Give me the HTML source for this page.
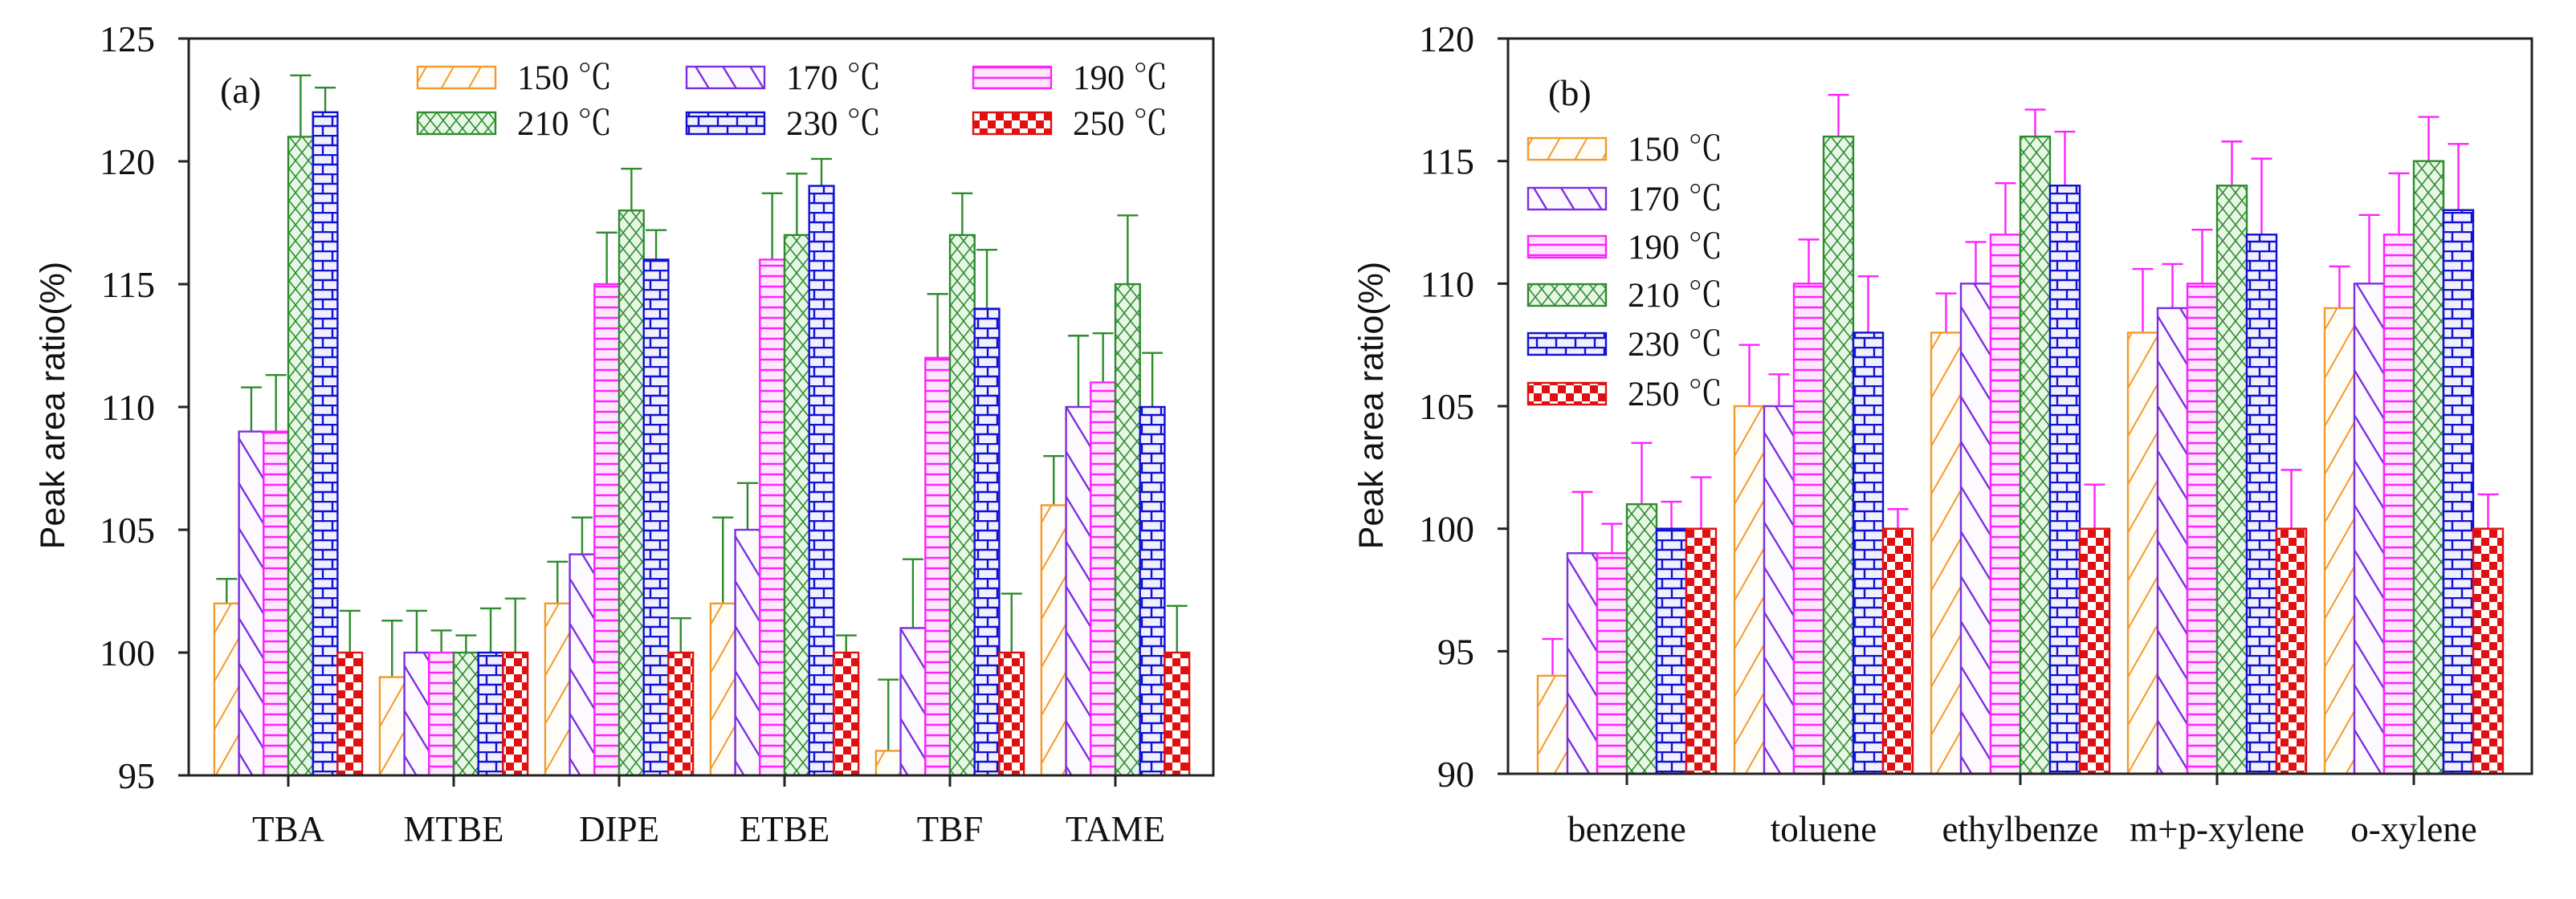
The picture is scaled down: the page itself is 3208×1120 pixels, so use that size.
<!DOCTYPE html>
<html><head><meta charset="utf-8"><style>
html,body{margin:0;padding:0;background:#fff;}
svg{display:block;}
text{font-family:"Liberation Serif","Noto Serif CJK SC",serif;fill:#111;}
.yt{font-family:"Liberation Sans",sans-serif;}
</style></head><body>
<svg id="fig" width="3208" height="1120" viewBox="0 0 3208 1120" xmlns="http://www.w3.org/2000/svg">
<defs>
<pattern id="p150" patternUnits="userSpaceOnUse" width="34" height="60"><rect width="34" height="60" fill="#fffdf8"/><line x1="-17" y1="90" x2="51" y2="-30" stroke="#f39a2e" stroke-width="2"/><line x1="-51" y1="90" x2="17" y2="-30" stroke="#f39a2e" stroke-width="2"/><line x1="17" y1="90" x2="85" y2="-30" stroke="#f39a2e" stroke-width="2"/></pattern>
<pattern id="p170" patternUnits="userSpaceOnUse" width="34" height="56"><rect width="34" height="56" fill="#fdfaff"/><line x1="-17" y1="-28" x2="51" y2="84" stroke="#7b2fe0" stroke-width="2.4"/><line x1="-51" y1="-28" x2="17" y2="84" stroke="#7b2fe0" stroke-width="2.4"/><line x1="17" y1="-28" x2="85" y2="84" stroke="#7b2fe0" stroke-width="2.4"/></pattern>
<pattern id="p190" patternUnits="userSpaceOnUse" width="20" height="13"><rect width="20" height="13" fill="#ffe8ff"/><line x1="0" y1="6" x2="20" y2="6" stroke="#ff22ff" stroke-width="2.4"/></pattern>
<pattern id="p210" patternUnits="userSpaceOnUse" width="16" height="20"><rect width="16" height="20" fill="#e6f7e6"/><line x1="0" y1="0" x2="16" y2="20" stroke="#2e8b2e" stroke-width="1.6"/><line x1="16" y1="0" x2="0" y2="20" stroke="#2e8b2e" stroke-width="1.6"/></pattern>
<pattern id="p230" patternUnits="userSpaceOnUse" width="24" height="24"><rect width="24" height="24" fill="#f0f0ff"/><line x1="0" y1="1" x2="24" y2="1" stroke="#1010d0" stroke-width="2.4"/><line x1="0" y1="13" x2="24" y2="13" stroke="#1010d0" stroke-width="2.4"/><line x1="6" y1="1" x2="6" y2="13" stroke="#1010d0" stroke-width="2.4"/><line x1="18" y1="13" x2="18" y2="25" stroke="#1010d0" stroke-width="2.4"/></pattern>
<pattern id="p250" patternUnits="userSpaceOnUse" width="20" height="20"><rect width="20" height="20" fill="#fff"/><rect x="0" y="0" width="10" height="10" fill="#e01010"/><rect x="10" y="10" width="10" height="10" fill="#e01010"/></pattern>
</defs>
<g id="layer"></g>
</svg>
<script>
var seriesLabels = ["150 ℃","170 ℃","190 ℃","210 ℃","230 ℃","250 ℃"];
var seriesColors = ["#f39a2e","#7b2fe0","#ff22ff","#2e8b2e","#1010d0","#e01010"];
var seriesPatterns = ["p150","p170","p190","p210","p230","p250"];

var catsA = ["TBA","MTBE","DIPE","ETBE","TBF","TAME"];
var valsA150 = [102,99,102,102,96,106];
var valsA170 = [109,100,104,105,101,110];
var valsA190 = [109,100,115,116,112,111];
var valsA210 = [121,100,118,117,117,115];
var valsA230 = [122,100,116,119,114,110];
var valsA250 = [100,100,100,100,100,100];
var errA150 = [103,101.3,103.7,105.5,98.9,108];
var errA170 = [110.8,101.7,105.5,106.9,103.8,112.9];
var errA190 = [111.3,100.9,117.1,118.7,114.6,113];
var errA210 = [123.5,100.7,119.7,119.5,118.7,117.8];
var errA230 = [123,101.8,117.2,120.1,116.4,112.2];
var errA250 = [101.7,102.2,101.4,100.7,102.4,101.9];
var ticksA = [95,100,105,110,115,120,125];

var catsB = ["benzene","toluene","ethylbenze","m+p-xylene","o-xylene"];
var valsB150 = [94,105,108,108,109];
var valsB170 = [99,105,110,109,110];
var valsB190 = [99,110,112,110,112];
var valsB210 = [101,116,116,114,115];
var valsB230 = [100,108,114,112,113];
var valsB250 = [100,100,100,100,100];
var errB150 = [95.5,107.5,109.6,110.6,110.7];
var errB170 = [101.5,106.3,111.7,110.8,112.8];
var errB190 = [100.2,111.8,114.1,112.2,114.5];
var errB210 = [103.5,117.7,117.1,115.8,116.8];
var errB230 = [101.1,110.3,116.2,115.1,115.7];
var errB250 = [102.1,100.8,101.8,102.4,101.4];
var ticksB = [90,95,100,105,110,115,120];

var NS = "http://www.w3.org/2000/svg";
var layer = document.getElementById("layer");
function mk(tag, attrs, parent){var e=document.createElementNS(NS,tag);for(var k in attrs)e.setAttribute(k,attrs[k]);(parent||layer).appendChild(e);return e;}

function drawChart(cfg){
  var g = mk("g",{});
  
  
  var L=cfg.left,R=cfg.right,T=cfg.top,B=cfg.bottom;
  function y(v){return B-(v-cfg.min)/(cfg.max-cfg.min)*(B-T);}
  function xc(i){return cfg.first+i*cfg.step;}
  var vals=cfg.vals, errs=cfg.errs;
  // bars
  for(var s=0;s<6;s++){
    for(var i=0;i<cfg.cats.length;i++){
      var x0=xc(i)-3*cfg.bw+s*cfg.bw;
      var v=vals[s][i], yy=y(v);
      var e=y(errs[s][i]);
      var eb=mk("g",{},g);
      
      
      mk("line",{x1:x0+cfg.bw/2,y1:yy,x2:x0+cfg.bw/2,y2:e,stroke:cfg.errColor,"stroke-width":2.4},eb);
      mk("line",{x1:x0+cfg.bw/2-13,y1:e,x2:x0+cfg.bw/2+13,y2:e,stroke:cfg.errColor,"stroke-width":2.4},eb);
      var r=mk("rect",{x:x0,y:yy,width:cfg.bw,height:B-yy,fill:"url(#"+seriesPatterns[s]+")",stroke:seriesColors[s],"stroke-width":2.4},g);
      
      
    }
  }
  // frame
  var fr=mk("rect",{x:L,y:T,width:R-L,height:B-T,fill:"none",stroke:"#222","stroke-width":3},g);
  
  
  // y ticks
  cfg.ticks.forEach(function(t){
    var ty=y(t);
    mk("line",{x1:L-13,y1:ty,x2:L,y2:ty,stroke:"#222","stroke-width":3},g);
    var tx=mk("text",{x:L-42,y:ty+16,"text-anchor":"end","font-size":46},g);
    tx.textContent=t;
    
    
  });
  // x ticks
  cfg.cats.forEach(function(c,i){
    mk("line",{x1:xc(i),y1:B,x2:xc(i),y2:B+14,stroke:"#222","stroke-width":3},g);
    var tx=mk("text",{x:xc(i),y:1048,"text-anchor":"middle","font-size":45},g);
    tx.textContent=c;
    
    
  });
  // y title
  var yt=mk("text",{x:0,y:0,"text-anchor":"middle","font-size":43,"class":"yt",transform:"translate("+cfg.ytx+",505) rotate(-90)"},g);
  yt.textContent="Peak area ratio(%)";
  
  
  // panel label
  var pl=mk("text",{x:cfg.plx,y:cfg.ply,"font-size":46},g);
  pl.textContent=cfg.panel;
  
  
  // legend
  for(var s=0;s<6;s++){
    var p=cfg.leg[s];
    var le=mk("g",{},g);
    
    
    mk("rect",{x:p[0],y:p[1]-13,width:97,height:27,fill:"url(#"+seriesPatterns[s]+")",stroke:seriesColors[s],"stroke-width":2.4},le);
    var lt=mk("text",{x:p[0]+124,y:p[1]+15,"font-size":43},le);
    lt.textContent=seriesLabels[s];
  }
}

drawChart({name:"chart-a",left:235,right:1511,top:48,bottom:966,min:95,max:125,
  first:359,step:206,bw:30.7,cats:catsA,ticks:ticksA,errColor:"#2e8b2e",
  vals:[valsA150,valsA170,valsA190,valsA210,valsA230,valsA250],
  errs:[errA150,errA170,errA190,errA210,errA230,errA250],
  ytx:80,panel:"(a)",plx:274,ply:128,
  leg:[[520,96],[855,96],[1212,96],[520,153],[855,153],[1212,153]]});

drawChart({name:"chart-b",left:1878,right:3153,top:48,bottom:964,min:90,max:120,
  first:2026,step:245,bw:37,cats:catsB,ticks:ticksB,errColor:"#ff22ff",
  vals:[valsB150,valsB170,valsB190,valsB210,valsB230,valsB250],
  errs:[errB150,errB170,errB190,errB210,errB230,errB250],
  ytx:1722,panel:"(b)",plx:1928,ply:131,
  leg:[[1903,185],[1903,247],[1903,307],[1903,367],[1903,428],[1903,490]]});
</script>
</body></html>
